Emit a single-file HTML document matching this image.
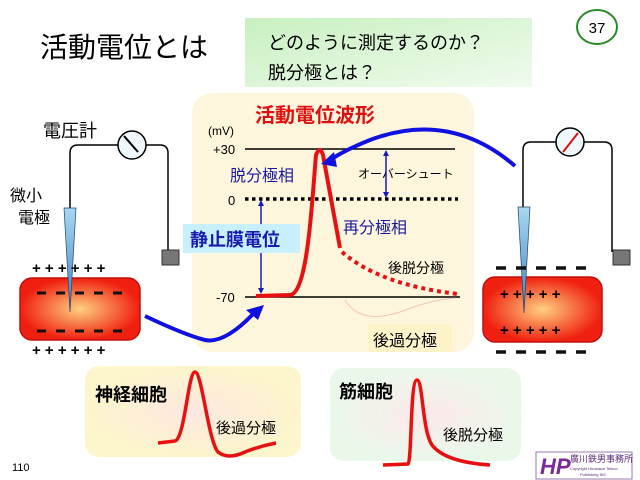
<!DOCTYPE html>
<html><head><meta charset="utf-8"><style>
body{margin:0;background:#fff}
svg{display:block;font-family:"Liberation Sans","Noto Sans CJK JP",sans-serif}
</style></head><body>
<svg width="640" height="480" viewBox="0 0 640 480" xmlns="http://www.w3.org/2000/svg">
<defs>
<linearGradient id="gg" x1="0" y1="0" x2="1" y2="1"><stop offset="0" stop-color="#c8f0c0"/><stop offset="1" stop-color="#f0fbee"/></linearGradient>
<radialGradient id="cell"><stop offset="0" stop-color="#fed080"/><stop offset="1" stop-color="#f02010"/></radialGradient>
<linearGradient id="el" x1="0" y1="0" x2="0" y2="1"><stop offset="0" stop-color="#a8d8f0"/><stop offset="1" stop-color="#3a80c8"/></linearGradient>
<radialGradient id="cream"><stop offset="0" stop-color="#fde8e0"/><stop offset="1" stop-color="#fdf5cc"/></radialGradient>
<radialGradient id="mint"><stop offset="0" stop-color="#fde8ea"/><stop offset="1" stop-color="#eaf8ea"/></radialGradient>
</defs>
<text x="40" y="57" font-size="28">活動電位とは</text>
<rect x="245" y="18" width="287" height="69" fill="url(#gg)"/>
<text x="268" y="49" font-size="18">どのように測定するのか？</text>
<text x="268" y="79" font-size="18">脱分極とは？</text>
<ellipse cx="597" cy="27" rx="20" ry="17" fill="#fff" stroke="#2a8a2a" stroke-width="2"/>
<text x="597" y="33" font-size="15" text-anchor="middle">37</text>

<rect x="192" y="93" width="282" height="259" rx="20" fill="#fdf6dc"/>
<text x="255" y="122" font-size="20" font-weight="bold" fill="#e01010">活動電位波形</text>
<text x="208" y="135" font-size="12">(mV)</text>
<text x="213" y="154" font-size="13">+30</text>
<line x1="245" y1="149" x2="455" y2="149" stroke="#000" stroke-width="1.5"/>
<text x="228" y="205" font-size="13">0</text>
<line x1="245" y1="199" x2="458" y2="199" stroke="#000" stroke-width="3.5" stroke-dasharray="3.5 3.5"/>
<text x="216" y="302" font-size="13">-70</text>
<line x1="245" y1="297" x2="460" y2="297" stroke="#000" stroke-width="1.5"/>
<path d="M256 296 L290 295 C308 293 312 200 316 155 Q320 145 323 155 L340 248" fill="none" stroke="#e81010" stroke-width="4"/>
<path d="M342 252 Q380 285 458 294" fill="none" stroke="#e81010" stroke-width="4" stroke-dasharray="4 4"/>
<path d="M345 300 Q360 325 400 312 Q430 300 455 298" fill="none" stroke="#f4c0c0" stroke-width="1"/>
<text x="230" y="181" font-size="16" fill="#1a1aa0">脱分極相</text>
<line x1="261" y1="204" x2="261" y2="290" stroke="#1a1ac0" stroke-width="1.5"/>
<path d="M261 200 l-3 6 h6z M261 294 l-3 -6 h6z" fill="#1a1ac0"/>
<rect x="183" y="224" width="117" height="29" fill="#c8f0fc"/>
<text x="190" y="246" font-size="18" font-weight="bold" fill="#1a1ab0">静止膜電位</text>
<text x="358" y="178" font-size="12">オーバーシュート</text>
<line x1="386" y1="153" x2="386" y2="195" stroke="#1a1ac0" stroke-width="1.5"/>
<path d="M386 150 l-3 6 h6z M386 198 l-3 -6 h6z" fill="#1a1ac0"/>
<text x="343" y="233" font-size="16" fill="#1a1aa0">再分極相</text>
<text x="388" y="273" font-size="14">後脱分極</text>
<rect x="368" y="324" width="84" height="28" fill="#fdf2c8"/>
<text x="373" y="346" font-size="16">後過分極</text>

<!-- left setup -->
<text x="43" y="137" font-size="18">電圧計</text>
<path d="M118 145 H78 Q70 145 70 153 V210 M146 145 H160 Q168 145 168 153 V252" fill="none" stroke="#000" stroke-width="1.5"/>
<circle cx="132" cy="145" r="14" fill="#eef8fc" stroke="#000" stroke-width="1.5"/>
<line x1="124" y1="136" x2="138" y2="152" stroke="#000" stroke-width="2"/>
<rect x="162" y="250" width="17" height="15" fill="#777" stroke="#333"/>
<text x="10" y="201" font-size="16">微小</text>
<text x="18" y="223" font-size="16">電極</text>
<rect x="20" y="278" width="120" height="62" rx="12" fill="url(#cell)" stroke="#c01010" stroke-width="1.5"/>
<path d="M64 208 H76 L70 312 Z" fill="url(#el)" stroke="#246" stroke-width="0.7"/>
<text x="32" y="273" font-size="15" font-weight="bold">+ + + + + +</text>
<line x1="37" y1="293" x2="125" y2="293" stroke="#111" stroke-width="3" stroke-dasharray="9 10"/>
<line x1="37" y1="331" x2="125" y2="331" stroke="#111" stroke-width="3" stroke-dasharray="9 10"/>
<text x="32" y="355" font-size="15" font-weight="bold">+ + + + + +</text>
<path d="M145 316 Q185 335 205 340 Q225 344 255 312" fill="none" stroke="#1010e0" stroke-width="4"/>
<path d="M264 305 L246 310 L258 320 Z" fill="#1010e0"/>

<!-- right setup -->
<path d="M556 142 H531 Q523 142 523 150 V207 M584 142 H604 Q612 142 612 150 V252" fill="none" stroke="#000" stroke-width="1.5"/>
<circle cx="570" cy="142" r="14" fill="#eef8fc" stroke="#000" stroke-width="1.5"/>
<line x1="563" y1="152" x2="578" y2="133" stroke="#e01010" stroke-width="2"/>
<rect x="613" y="250" width="17" height="15" fill="#777" stroke="#333"/>
<rect x="483" y="277" width="119" height="65" rx="12" fill="url(#cell)" stroke="#c01010" stroke-width="1.5"/>
<path d="M518 207 H530 L524 313 Z" fill="url(#el)" stroke="#246" stroke-width="0.7"/>
<line x1="496" y1="268" x2="590" y2="268" stroke="#111" stroke-width="3.5" stroke-dasharray="10 10"/>
<text x="500" y="299" font-size="15" font-weight="bold">+ + + + +</text>
<text x="500" y="335" font-size="15" font-weight="bold">+ + + + +</text>
<line x1="496" y1="352" x2="590" y2="352" stroke="#111" stroke-width="3.5" stroke-dasharray="10 10"/>
<path d="M515 166 Q450 110 370 140 Q345 150 330 160" fill="none" stroke="#1010e0" stroke-width="4"/>
<path d="M321 164 L334 152 L337 167 Z" fill="#1010e0"/>

<!-- bottom panels -->
<rect x="85" y="366" width="216" height="91" rx="14" fill="url(#cream)"/>
<text x="95" y="401" font-size="18" font-weight="bold">神経細胞</text>
<path d="M158 443 L175 441 C185 438 188 372 195 372 C202 372 208 440 218 452 Q228 460 245 452 Q260 446 276 443" fill="none" stroke="#e81010" stroke-width="3.5"/>
<text x="216" y="433" font-size="15">後過分極</text>
<rect x="330" y="368" width="191" height="93" rx="14" fill="url(#mint)"/>
<text x="339" y="398" font-size="18" font-weight="bold">筋細胞</text>
<path d="M383 465 L408 464 C412 460 410 380 417 380 C423 380 422 430 432 445 Q445 462 490 465" fill="none" stroke="#e81010" stroke-width="3.5"/>
<text x="443" y="440" font-size="15">後脱分極</text>
<text x="12" y="471" font-size="11">110</text>
<rect x="536" y="452" width="96" height="27" fill="#fff" stroke="#9a7ab0"/>
<text x="540" y="474" font-size="22" font-weight="bold" font-style="italic" fill="#7a2a9a">HP</text>
<text x="570" y="462" font-size="9" fill="#5a2a7a">廣川鉄男事務所</text>
<text x="570" y="470" font-size="4" fill="#5a2a7a">Copyright Hirokawa Tetsuo</text>
<text x="580" y="476" font-size="4" fill="#5a2a7a">Publishing INC</text>
</svg>
</body></html>
